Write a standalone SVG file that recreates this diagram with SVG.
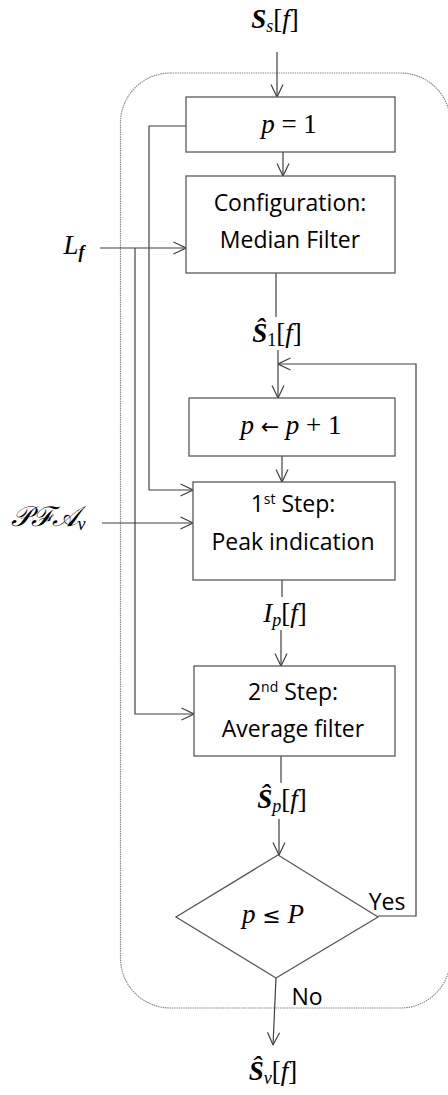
<svg xmlns="http://www.w3.org/2000/svg" width="448" height="1095" viewBox="0 0 448 1095">
<style>
.box{fill:#fff;stroke:#595959;stroke-width:1.3}
.ln{fill:none;stroke:#404040;stroke-width:1.2}
.txt{font-family:"Open Sans","Liberation Sans",sans-serif;font-size:23px;fill:#000;text-anchor:middle}
.m{font-family:"Liberation Serif","DejaVu Serif",serif;font-style:italic;font-size:27px;fill:#000;text-anchor:middle}
.up{font-style:normal}
.b{font-weight:bold}
.sub{font-size:18px}
.sup{font-size:14px}
.sym{font-family:"DejaVu Sans",sans-serif;font-style:normal;font-size:22px}
</style>
<defs>
<marker id="ar" viewBox="0 0 14 14" refX="13.5" refY="7" markerWidth="14" markerHeight="14" markerUnits="userSpaceOnUse" orient="auto">
<path d="M1,1 L13.5,7 L1,13" fill="none" stroke="#404040" stroke-width="1.2"/>
</marker>
</defs>
<rect id="container" x="120.5" y="73" width="330" height="935" rx="50" ry="50" fill="none" stroke="#8c8c8c" stroke-width="1.2" stroke-dasharray="1.5 0.8"/>
<g id="connectors">
<path class="ln" d="M277,52 V97" marker-end="url(#ar)"/>
<path class="ln" d="M283,152 V176" marker-end="url(#ar)"/>
<path class="ln" d="M186,126 H149 V490 H193" marker-end="url(#ar)"/>
<path class="ln" d="M100,248 H186" marker-end="url(#ar)"/>
<path class="ln" d="M135,248 V714 H194" marker-end="url(#ar)"/>
<path class="ln" d="M276,273 V317"/>
<path class="ln" d="M278,350 V398" marker-end="url(#ar)"/>
<path class="ln" d="M378,916 H416 V364 H278" marker-end="url(#ar)"/>
<path class="ln" d="M282,456 V482" marker-end="url(#ar)"/>
<path class="ln" d="M102,523 H193" marker-end="url(#ar)"/>
<path class="ln" d="M282,580 V597"/>
<path class="ln" d="M281,630 V666" marker-end="url(#ar)"/>
<path class="ln" d="M281,756 V783"/>
<path class="ln" d="M279,819 V855" marker-end="url(#ar)"/>
<path class="ln" d="M276,978 L273,1045" marker-end="url(#ar)"/>
</g>
<g id="input-ss">
<text class="m" x="275" y="28"><tspan class="b">S</tspan><tspan class="sub" dy="4">s</tspan><tspan class="up" dy="-4">[</tspan>f<tspan class="up">]</tspan></text>
</g>
<g id="init">
<rect class="box" x="186" y="97" width="209" height="55"/>
<text class="m" x="289" y="133">p <tspan class="up">= 1</tspan></text>
</g>
<g id="config">
<rect class="box" x="186" y="176" width="209" height="97"/>
<text class="txt" x="290" y="211">Configuration:</text>
<text class="txt" x="290" y="248">Median Filter</text>
</g>
<g id="input-lf">
<text class="m" x="74" y="254">L<tspan class="sub b" dy="4">f</tspan></text>
</g>
<g id="label-s1">
<text class="m" x="277" y="342"><tspan class="b">Ŝ</tspan><tspan class="sub up" dy="4">1</tspan><tspan class="up" dy="-4">[</tspan>f<tspan class="up">]</tspan></text>
</g>
<g id="increment">
<rect class="box" x="189" y="398" width="206" height="58"/>
<text class="m" x="291" y="434">p <tspan class="sym">←</tspan> p <tspan class="up">+ 1</tspan></text>
</g>
<g id="step1">
<rect class="box" x="193" y="482" width="202" height="98"/>
<text class="txt" x="293" y="512">1<tspan class="sup" dy="-8">st</tspan><tspan dy="8"> Step:</tspan></text>
<text class="txt" x="293" y="550">Peak indication</text>
</g>
<g id="input-pfa">
<text class="m" x="48" y="526" style="font-size:28px">𝒫ℱ𝒜<tspan class="sub" dy="4">v</tspan></text>
</g>
<g id="label-ip">
<text class="m" x="285" y="622">I<tspan class="sub" dy="4">p</tspan><tspan class="up" dy="-4">[</tspan>f<tspan class="up">]</tspan></text>
</g>
<g id="step2">
<rect class="box" x="194" y="666" width="201" height="90"/>
<text class="txt" x="293" y="700">2<tspan class="sup" dy="-8">nd</tspan><tspan dy="8"> Step:</tspan></text>
<text class="txt" x="293" y="737">Average filter</text>
</g>
<g id="label-sp">
<text class="m" x="282" y="808"><tspan class="b">Ŝ</tspan><tspan class="sub" dy="4">p</tspan><tspan class="up" dy="-4">[</tspan>f<tspan class="up">]</tspan></text>
</g>
<g id="decision">
<polygon class="box" points="278,855 378,917 276,978 176,917"/>
<text class="m" x="273" y="923">p <tspan class="sym">≤</tspan> P</text>
<text class="txt" x="387" y="910">Yes</text>
<text class="txt" x="307" y="1005">No</text>
</g>
<g id="output-sv">
<text class="m" x="273" y="1080"><tspan class="b">Ŝ</tspan><tspan class="sub" dy="4">v</tspan><tspan class="up" dy="-4">[</tspan>f<tspan class="up">]</tspan></text>
</g>
</svg>
